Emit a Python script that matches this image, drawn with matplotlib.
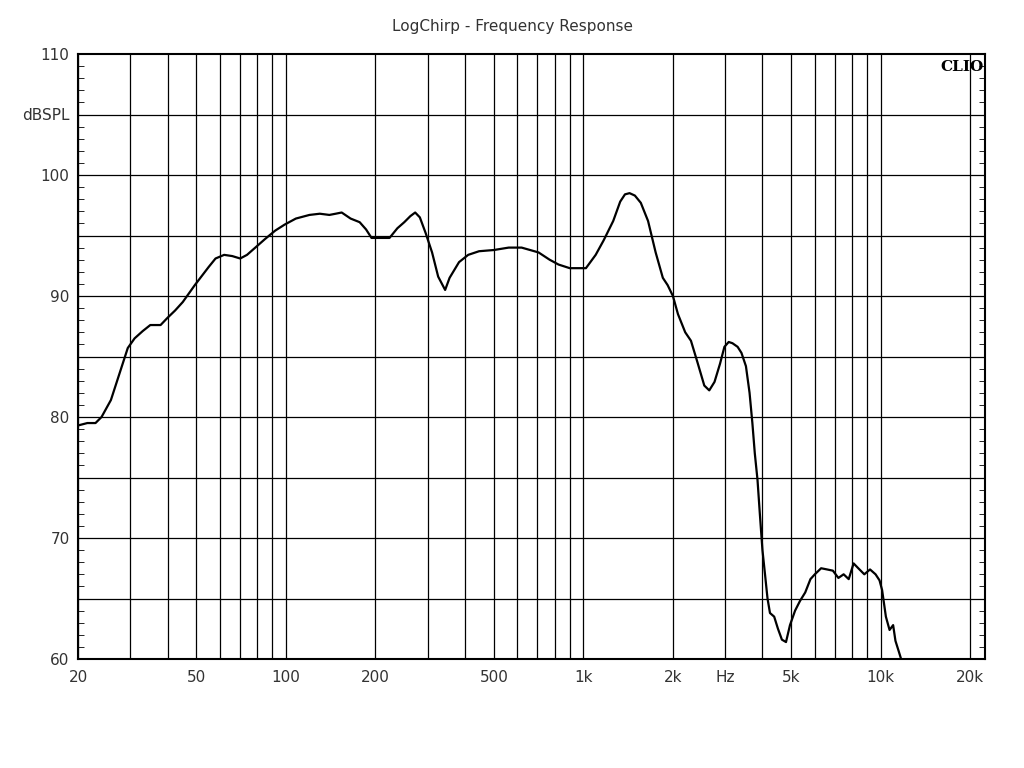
import numpy as np
import matplotlib.pyplot as plt
from matplotlib.ticker import FixedLocator, NullFormatter, MultipleLocator

freq = [20, 21.5, 22.9, 24, 25.8, 27.5, 29.4, 31, 33, 35.0, 37.9, 40, 42.4, 45, 49.4, 55, 58, 62, 66, 70.2,
        74, 78.9, 85, 92, 99, 108, 120, 130, 140, 147, 154, 165, 177, 186, 194, 210, 223, 237, 250,
        262, 272, 282, 295, 310, 325, 343, 355, 382, 410, 446, 500, 561, 620, 707, 770, 825, 900,
        962, 1020, 1100, 1170, 1260, 1330, 1380, 1430, 1490, 1560, 1650, 1750, 1850, 1920, 2000,
        2080, 2200, 2300, 2420, 2550, 2650, 2760, 2880, 2980, 3080, 3170, 3300, 3400, 3520, 3620,
        3700, 3770, 3850, 3920, 4000, 4080, 4160, 4240, 4380, 4510, 4650, 4800, 4950, 5150, 5350,
        5570, 5800, 6000, 6300, 6600, 6900, 7200, 7500, 7800, 8100, 8400, 8800, 9200, 9600, 9900,
        10100, 10400, 10700, 11000, 11200, 11500, 11700]
spl = [79.3, 79.5, 79.5, 80.0, 81.4, 83.5, 85.7, 86.5, 87.1, 87.6, 87.6, 88.2, 88.8, 89.5, 90.9, 92.4, 93.1, 93.4, 93.3, 93.1,
       93.4, 94.0, 94.7, 95.4, 95.9, 96.4, 96.7, 96.8, 96.7, 96.8, 96.9, 96.4, 96.1, 95.5, 94.8, 94.8, 94.8, 95.6, 96.1,
       96.6, 96.9, 96.5, 95.2, 93.6, 91.6, 90.5, 91.5, 92.8, 93.4, 93.7, 93.8, 94.0, 94.0, 93.6, 93.0, 92.6, 92.3,
       92.3, 92.3, 93.4, 94.6, 96.2, 97.8, 98.4, 98.5, 98.3, 97.7, 96.2, 93.6, 91.5, 90.9, 90.0,
       88.5, 87.0, 86.3, 84.5, 82.6, 82.2, 82.9, 84.4, 85.8, 86.2, 86.1, 85.8, 85.3, 84.2, 82.0,
       79.5, 77.0, 74.8, 72.0, 69.0, 67.0, 65.0, 63.8, 63.5, 62.5, 61.6, 61.4, 62.8, 64.0, 64.8,
       65.5, 66.6, 67.0, 67.5, 67.4, 67.3, 66.7, 67.0, 66.6, 67.9, 67.5, 67.0, 67.4, 67.0, 66.5,
       65.7, 63.5, 62.4, 62.8, 61.5, 60.6, 60.0]

major_x = [20, 50, 100, 200, 500, 1000, 2000, 3000, 5000, 10000, 20000]
major_lbl = ['20', '50', '100', '200', '500', '1k', '2k', 'Hz', '5k', '10k', '20k']
grid_x = [m * d for d in (10, 100, 1000) for m in range(2, 10)] + [20000, 100, 1000, 10000]
y_ticks = [60, 70, 80, 90, 100, 105, 110]
y_lbl = ['60', '70', '80', '90', '100', 'dBSPL', '110']

fig = plt.figure(figsize=(10.24, 7.68), dpi=100)
ax = fig.add_axes([78/1024, 1 - 659/768, 907/1024, 605/768])
ax.semilogx(freq, spl, color='black', lw=1.6)
ax.set_xlim(20, 22400)
ax.set_ylim(60, 110)

for g in grid_x:
    ax.axvline(g, color='black', lw=0.9, zorder=0)
for g in range(65, 110, 5):
    ax.axhline(g, color='black', lw=0.9, zorder=0)

ax.xaxis.set_major_locator(FixedLocator(major_x))
ax.set_xticklabels(major_lbl)
ax.xaxis.set_minor_locator(FixedLocator([]))
ax.xaxis.set_minor_formatter(NullFormatter())
ax.set_yticks(y_ticks)
ax.set_yticklabels(y_lbl)
ax.yaxis.set_minor_locator(MultipleLocator(1))
ax.tick_params(axis='x', length=0, labelsize=11, pad=8, labelcolor='#333333')
ax.tick_params(axis='y', which='major', length=0, labelsize=11, pad=6, labelcolor='#333333')
ax.tick_params(axis='y', which='minor', direction='in', length=4, right=True, left=True)
for s in ax.spines.values():
    s.set_linewidth(1.5)

ax.text(0.998, 0.99, 'CLIO', transform=ax.transAxes, ha='right', va='top',
        fontfamily='DejaVu Serif', fontweight='bold', fontsize=11)
fig.text(0.5, 1 - 27/768, 'LogChirp - Frequency Response', ha='center', va='center',
         fontsize=11, color='#333333')

fig.savefig('out.png', dpi=100)
